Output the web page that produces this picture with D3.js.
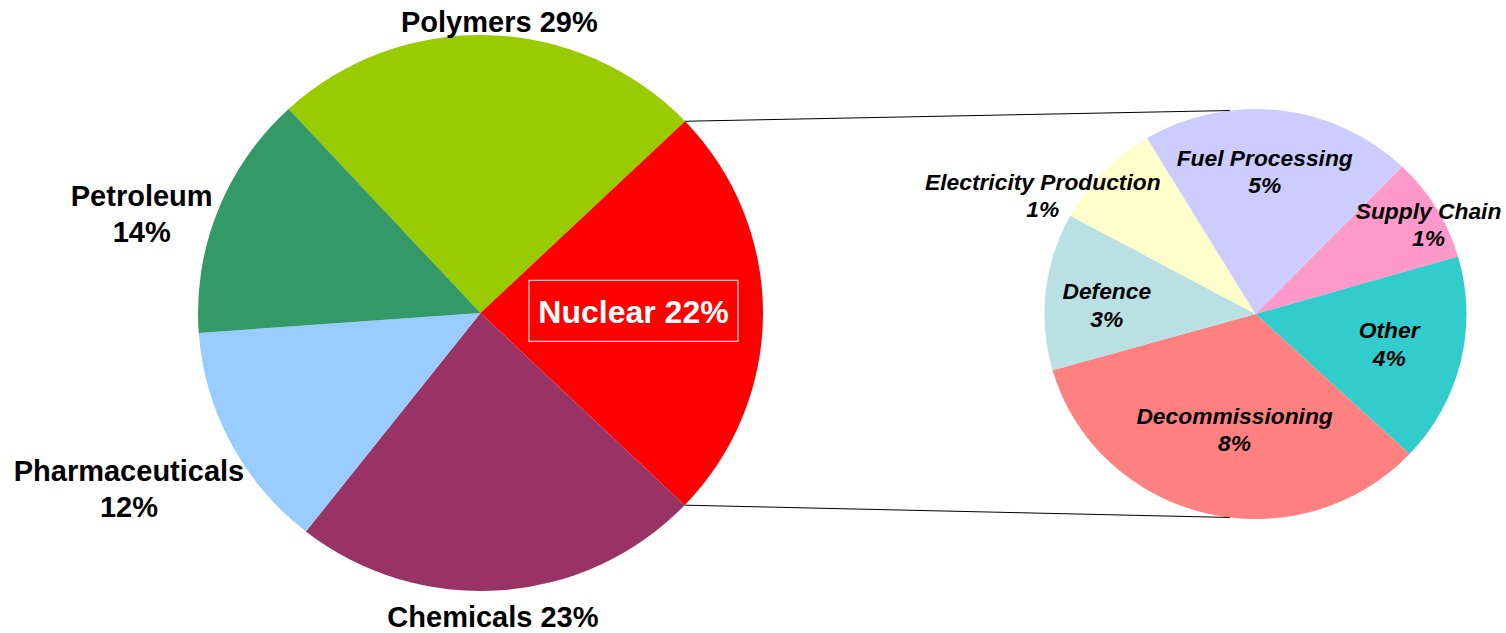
<!DOCTYPE html>
<html><head><meta charset="utf-8">
<script src="https://cdn.jsdelivr.net/npm/d3@7"></script>
<style>html,body{margin:0;padding:0;background:#fff;} svg{display:block}</style>
</head><body>
<svg id="chart" width="1506" height="633"></svg>
<script>
// ---- data ----
const mainCategories = ["Polymers", "Nuclear", "Chemicals", "Pharmaceuticals", "Petroleum"];
const mainValues = [24.77, 24.26, 23.46, 13.25, 14.26];
const mainLabels = [["Polymers 29%"], ["Nuclear 22%"], ["Chemicals 23%"], ["Pharmaceuticals", "12%"], ["Petroleum", "14%"]];
const mainColors = ["#99CC00", "#FF0000", "#993366", "#99CCFF", "#339966"];

const subCategories = ["Supply Chain", "Other", "Decommissioning", "Defence", "Electricity Production", "Fuel Processing"];
const subValues = [2.0, 4.0, 8.15, 3.0, 2.05, 5.05];
const subLabels = [["Supply Chain", "1%"], ["Other", "4%"], ["Decommissioning", "8%"], ["Defence", "3%"], ["Electricity Production", "1%"], ["Fuel Processing", "5%"]];
const subColors = ["#FF99CC", "#33CCCC", "#FF8080", "#B9E0E2", "#FFFFCC", "#CCCCFF"];

// ---- layout ----
const deg = Math.PI / 180;
const svg = d3.select("#chart");
const M = {cx: 480.5, cy: 313, rx: 282.5, ry: 278, start: -42.78};
const S = {cx: 1255.5, cy: 314, rx: 211, ry: 205, start: 44.03};
// label placement: [radius, angle offset in degrees] (screen space, from pie centre)
const mainLabelPos = [[291.6, 1.9], [153, -0.7], [304, 1.7], [393, 1.4], [353, -5.25]];
const subLabelPos = [[195, 3.67], [137, -0.8], [117, -3.3], [149, -2.76], [243.5, -14.7], [143, -2.84]];

function polar(c, R, a) { return [c.cx + R * Math.sin(a), c.cy - R * Math.cos(a)]; }
function ellPt(c, a) { return [c.cx + c.rx * Math.sin(a), c.cy - c.ry * Math.cos(a)]; }

function drawPie(cfg, vals, colors) {
  const pie = d3.pie().sort(null).value(d => d)
    .startAngle(cfg.start * deg).endAngle(cfg.start * deg + 2 * Math.PI);
  const arcs = pie(vals);
  const arc = d3.arc().innerRadius(0).outerRadius(cfg.ry);
  svg.append("g").attr("transform", `translate(${cfg.cx},${cfg.cy}) scale(${cfg.rx / cfg.ry},1)`)
    .selectAll("path").data(arcs).join("path")
    .attr("d", arc).attr("fill", (d, i) => colors[i]);
  return arcs;
}

const mainArcs = drawPie(M, mainValues, mainColors);
const subArcs = drawPie(S, subValues, subColors);

// connector lines
const nuc = mainArcs[1];
const p1 = ellPt(M, nuc.startAngle), p2 = ellPt(M, nuc.endAngle);
const q1 = ellPt(S, -7 * deg), q2 = ellPt(S, 187 * deg);
[[p1, q1], [p2, q2]].forEach(([a, b]) => {
  svg.append("line").attr("x1", a[0]).attr("y1", a[1]).attr("x2", b[0]).attr("y2", b[1])
    .attr("stroke", "#000").attr("stroke-width", 1);
});

function drawLabels(cfg, arcs, labels, pos, opts) {
  arcs.forEach((d, i) => {
    const mid = (d.startAngle + d.endAngle) / 2 + pos[i][1] * deg;
    const [x, y] = polar(cfg, pos[i][0], mid);
    const lines = labels[i];
    const style = opts(i);
    const t = svg.append("text").attr("x", x).attr("y", y)
      .attr("text-anchor", "middle")
      .attr("font-family", "'Liberation Sans', Arial, Helvetica, sans-serif")
      .attr("font-weight", "bold")
      .attr("font-style", style.italic ? "italic" : "normal")
      .attr("font-size", style.size)
      .attr("fill", style.fill);
    lines.forEach((ln, j) => {
      t.append("tspan").attr("x", x)
        .attr("y", y + (j - (lines.length - 1) / 2) * style.lh + style.size * 0.36)
        .text(ln);
    });
    if (style.box) {
      svg.append("rect").attr("x", x - 104.5).attr("y", y - 31).attr("width", 209).attr("height", 61)
        .attr("fill", "none").attr("stroke", "#fff").attr("stroke-width", 1);
    }
  });
}

drawLabels(M, mainArcs, mainLabels, mainLabelPos, i =>
  i === 1 ? {size: 32, lh: 36, fill: "#fff", box: true} : {size: 29, lh: 36, fill: "#000"});
drawLabels(S, subArcs, subLabels, subLabelPos, i => ({size: 22.8, lh: 27.5, fill: "#000", italic: true}));
</script>
</body></html>
